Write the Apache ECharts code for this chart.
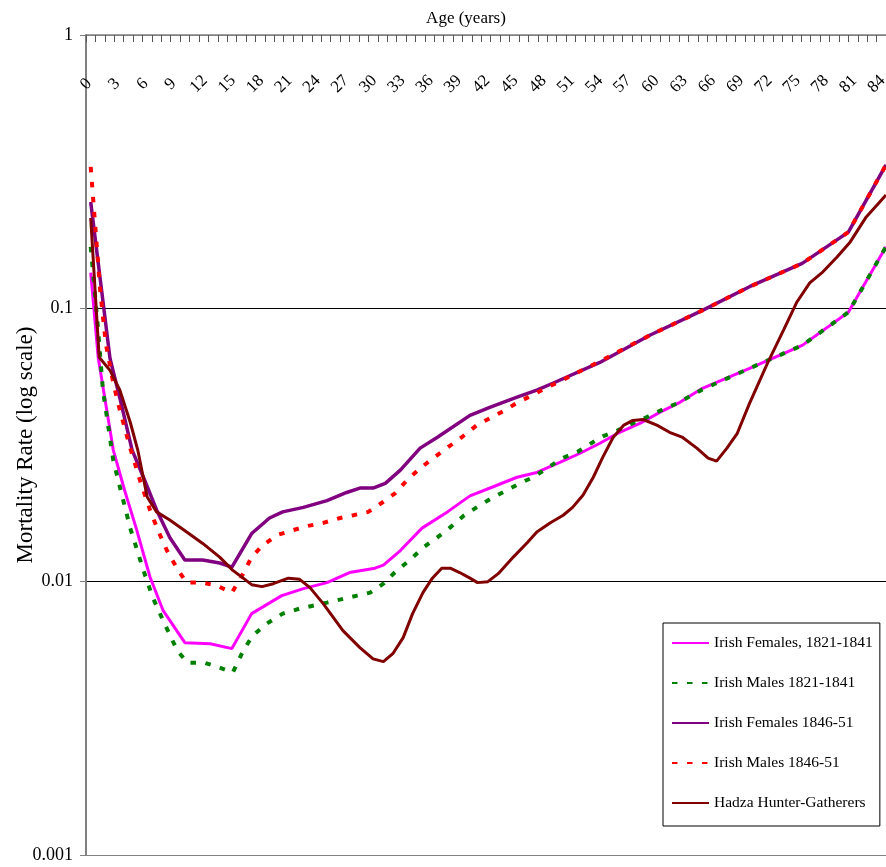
<!DOCTYPE html>
<html>
<head>
<meta charset="utf-8">
<script src="https://cdn.jsdelivr.net/npm/echarts@6/dist/echarts.min.js"></script>
<style>
html,body{margin:0;padding:0;background:#fff;}
#chart{width:886px;height:867px;}
</style>
</head>
<body>
<div id="chart"></div>
<script>
// ---- Data ----
const seriesNames = [
  'Irish Females, 1821-1841',
  'Irish Males 1821-1841',
  'Irish Females 1846-51',
  'Irish Males 1846-51',
  'Hadza Hunter-Gatherers'
];

const femIrish1821Ages = [0.5,1.3,2.0,2.9,4.1,5.4,6.8,8.2,10.5,13.2,15.5,17.6,20.8,23.1,25.6,28.0,30.7,31.6,33.4,35.7,38.4,40.8,43.2,45.8,47.9,50.4,52.5,54.6,56.7,58.9,61.0,63.1,65.5,70.5,76.1,81.0,85];
const femIrish1821Vals = [0.135,0.066,0.0469,0.0303,0.0216,0.0154,0.0104,0.00783,0.00598,0.00593,0.00569,0.00764,0.00889,0.00943,0.00992,0.0108,0.0112,0.0115,0.0130,0.0157,0.0180,0.0206,0.0222,0.0241,0.0251,0.0274,0.0295,0.0321,0.0352,0.0380,0.0417,0.0453,0.0510,0.0603,0.0732,0.0967,0.168];

const maleIrish1821Ages = [0.5,1.2,1.8,2.9,3.6,4.7,6.1,7.1,8.2,9.7,10.8,12.6,14.2,15.6,16.7,17.7,19.2,20.9,22.7,25.6,28.8,30.2,31.6,32.8,34.4,35.8,37.3,38.7,40.1,41.5,43.1,44.5,46.1,47.5,49.0,50.6,52.2,53.5,54.9,56.5,58.1,59.6,61.3,62.8,65.5,70.5,76.1,81.0,85];
const maleIrish1821Vals = [0.168,0.0904,0.0502,0.0278,0.0222,0.0157,0.0110,0.00874,0.00720,0.00559,0.00505,0.00505,0.00485,0.00465,0.00559,0.00634,0.00702,0.00764,0.00797,0.00838,0.00889,0.00912,0.00983,0.0108,0.0120,0.0133,0.0145,0.0158,0.0174,0.0187,0.0202,0.0214,0.0229,0.0241,0.0260,0.0283,0.0298,0.0318,0.0340,0.0358,0.0380,0.0400,0.0427,0.0449,0.0505,0.0603,0.0732,0.0967,0.168];

const femIrish1846Ages = [0.5,2.55,3.6,4.9,6.1,7.5,8.9,10.5,12.4,14.2,15.5,17.6,19.5,20.9,23.1,25.6,27.7,29.1,30.5,31.8,33.4,35.5,37.3,40.8,42.9,45.8,47.9,49.6,54.6,59.9,65.5,70.5,76.1,81.0,85];
const femIrish1846Vals = [0.245,0.0656,0.0469,0.0303,0.0241,0.0183,0.0145,0.0120,0.0120,0.0117,0.0113,0.0150,0.0171,0.0180,0.0187,0.0198,0.0212,0.0220,0.0220,0.0229,0.0256,0.0308,0.0337,0.0406,0.0434,0.0473,0.0502,0.0532,0.0634,0.0797,0.0983,0.120,0.146,0.190,0.335];

const maleIrish1846Ages = [0.5,1.5,2.1,2.9,3.6,4.7,5.8,6.8,7.65,8.6,9.8,10.7,12.4,13.9,15.5,16.7,17.6,18.8,20.3,21.9,23.6,25.2,27.0,28.4,30.0,31.4,32.8,34.1,35.5,36.9,38.5,39.9,41.5,42.9,44.3,45.9,47.4,49.0,50.4,54.6,59.9,65.5,70.5,76.1,81.0,85];
const maleIrish1846Vals = [0.329,0.117,0.0745,0.0532,0.0424,0.0308,0.0231,0.0183,0.0154,0.0130,0.0110,0.00992,0.00992,0.00967,0.00912,0.0107,0.0123,0.0136,0.0148,0.0154,0.0160,0.0164,0.0171,0.0175,0.0180,0.0194,0.0210,0.0235,0.0260,0.0283,0.0311,0.0337,0.0373,0.0396,0.0420,0.0453,0.0481,0.0514,0.0541,0.0640,0.0797,0.0983,0.120,0.146,0.190,0.335];

const hadzaAges = [0.5,1.4,2.55,3.6,4.7,5.5,6.5,7.5,8.9,10.7,12.4,14.2,15.6,16.7,17.6,18.7,19.9,21.5,22.7,23.8,25.2,27.3,29.1,30.5,31.6,32.6,33.7,34.7,35.8,36.8,37.8,38.7,39.7,40.8,41.6,42.7,43.8,45.4,46.9,47.9,49.3,50.7,51.7,52.8,53.9,54.9,56.0,57.1,58.1,59.2,60.7,62.0,63.4,64.9,66.1,67.0,68.1,69.2,70.5,72.4,74.1,75.5,76.9,78.3,79.8,81.2,82.9,85];
const hadzaVals = [0.214,0.0662,0.0593,0.0502,0.0383,0.0303,0.0204,0.0180,0.0168,0.0152,0.0138,0.0123,0.0110,0.0103,0.00975,0.00959,0.00983,0.0103,0.0102,0.00951,0.00831,0.00662,0.00574,0.00522,0.00510,0.00545,0.00624,0.00764,0.00912,0.0103,0.0112,0.0112,0.0108,0.0103,0.00992,0.0100,0.0107,0.0123,0.0139,0.0152,0.0164,0.0175,0.0187,0.0207,0.0241,0.0285,0.0337,0.0373,0.0389,0.0392,0.0373,0.0352,0.0337,0.0308,0.0283,0.0276,0.0308,0.0349,0.0449,0.0629,0.0831,0.105,0.124,0.136,0.154,0.175,0.216,0.260];

const xMin = 0, xMax = 85, xLabelStep = 3;
const yTickLabels = {'-3':'0.001','-2':'0.01','-1':'0.1','0':'1'};

// ---- Chart ----
const FONT = 'Liberation Serif';
function pairs(a, v){ return a.map((x,i)=>[x, v[i]]); }

const chart = echarts.init(document.getElementById('chart'), null, {renderer:'canvas'});
const solid = (c, w) => ({color:c, width:w, type:'solid'});
const dotted = (c) => ({color:c, width:4, type:[5.5,9.5], cap:'butt'});

chart.setOption({
  animation:false,
  backgroundColor:'#fff',
  grid:{left:86, right:0, top:35, bottom:12, containLabel:false, outerBoundsMode:'none'},
  legend:{
    orient:'vertical', left:663, top:623,
    backgroundColor:'#fff', borderColor:'#000', borderWidth:1, borderRadius:0,
    padding:[10,7,13,8], itemGap:20, itemWidth:37, itemHeight:14,
    itemStyle:{opacity:0},
    textStyle:{fontFamily:FONT, fontSize:15.5, color:'#000', lineHeight:20},
    data:seriesNames
  },
  xAxis:[{
    type:'value', position:'top', min:xMin, max:xMax, interval:xLabelStep,
    name:'Age (years)', nameLocation:'middle', nameGap:8, nameMoveOverlap:false,
    nameTextStyle:{fontFamily:FONT, fontSize:17, color:'#000', padding:[0,40,0,0]},
    axisLine:{show:true, lineStyle:{color:'#808080', width:1.5}},
    axisTick:{show:false},
    splitLine:{show:false},
    axisLabel:{
      inside:true, rotate:-45, margin:49, align:'center', verticalAlign:'middle',
      fontFamily:FONT, fontSize:17, color:'#000',
      showMaxLabel:false,
      formatter:(v)=> (Math.round(v) % xLabelStep === 0 ? String(Math.round(v)) : '')
    }
  },{
    type:'value', position:'top', min:xMin, max:xMax, interval:1,
    axisLine:{show:false}, axisLabel:{show:false}, splitLine:{show:false},
    axisTick:{show:true, inside:true, length:7, lineStyle:{color:'#555', width:1}}
  }],
  yAxis:{
    type:'log', logBase:10, min:0.001, max:1, splitNumber:3,
    name:'Mortality Rate (log scale)', nameLocation:'middle', nameGap:49, nameMoveOverlap:false,
    nameTextStyle:{fontFamily:FONT, fontSize:23, color:'#000'},
    axisLine:{show:true, lineStyle:{color:'#808080', width:2}},
    axisTick:{show:true, inside:false, length:6, lineStyle:{color:'#808080', width:1}},
    axisLabel:{
      margin:13, fontFamily:FONT, fontSize:18, color:'#000',
      formatter:(v)=> yTickLabels[String(Math.round(Math.log10(v)))] || ''
    },
    splitLine:{show:true, lineStyle:{color:['#808080','#000','#000','#808080'], width:1}}
  },
  series:[
    {name:seriesNames[0], type:'line', data:pairs(femIrish1821Ages, femIrish1821Vals), showSymbol:false, symbol:'none', lineStyle:solid('#FF00FF',3), itemStyle:{color:'#FF00FF'}},
    {name:seriesNames[1], type:'line', data:pairs(maleIrish1821Ages, maleIrish1821Vals), showSymbol:false, symbol:'none', lineStyle:dotted('#008000'), itemStyle:{color:'#008000'}},
    {name:seriesNames[2], type:'line', data:pairs(femIrish1846Ages, femIrish1846Vals), showSymbol:false, symbol:'none', lineStyle:solid('#800080',3.5), itemStyle:{color:'#800080'}},
    {name:seriesNames[3], type:'line', data:pairs(maleIrish1846Ages, maleIrish1846Vals), showSymbol:false, symbol:'none', lineStyle:dotted('#FF0000'), itemStyle:{color:'#FF0000'}},
    {name:seriesNames[4], type:'line', data:pairs(hadzaAges, hadzaVals), showSymbol:false, symbol:'none', lineStyle:solid('#800000',3), itemStyle:{color:'#800000'}}
  ]
});
</script>
</body>
</html>
